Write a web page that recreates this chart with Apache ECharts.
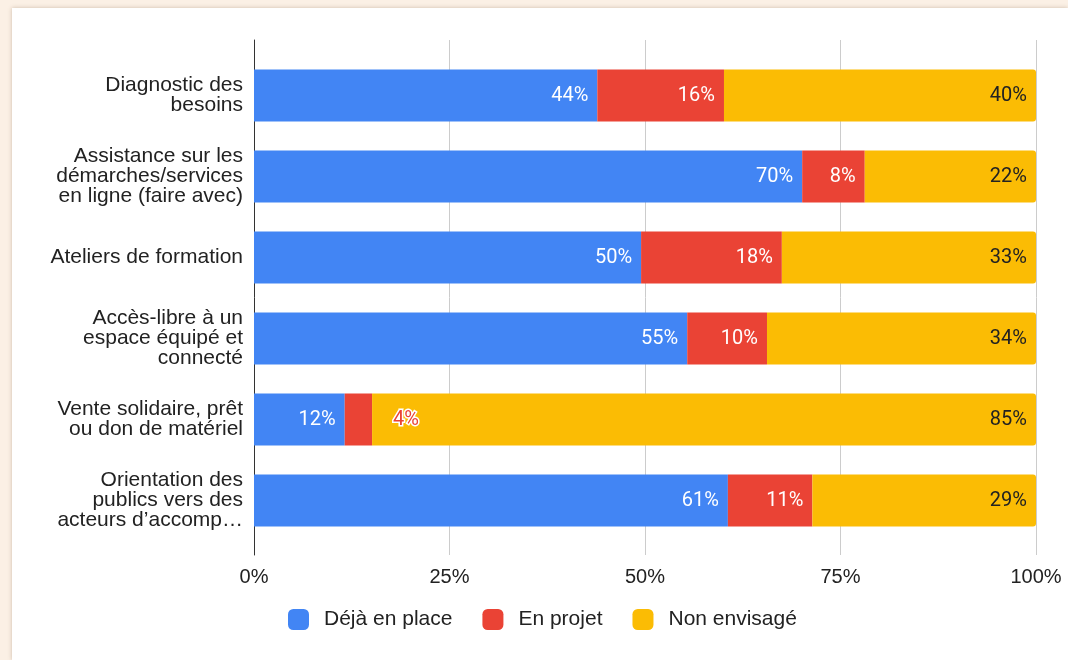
<!DOCTYPE html>
<html>
<head>
<meta charset="utf-8">
<script src="https://cdn.jsdelivr.net/npm/echarts@6/dist/echarts.min.js"></script>
<style>
  html, body { margin: 0; padding: 0; background: #fbf0e5; }
  #card {
    position: absolute; left: 12px; top: 8px; width: 1056px; height: 652px;
    background: #fff; box-shadow: 0 0 4px rgba(120, 90, 60, 0.35);
  }
  #chart { position: absolute; left: 0; top: 0; width: 1068px; height: 660px; }
</style>
</head>
<body>
<div id="card"></div>
<div id="chart"></div>
<script>
const categories = [
  'Diagnostic des\nbesoins',
  'Assistance sur les\ndémarches/services\nen ligne (faire avec)',
  'Ateliers de formation',
  'Accès-libre à un\nespace équipé et\nconnecté',
  'Vente solidaire, prêt\nou don de matériel',
  'Orientation des\npublics vers des\nacteurs d’accomp…'
];
const seriesNames = ['Déjà en place', 'En projet', 'Non envisagé'];
const dejaEnPlace = [43.9, 70.1, 49.5, 55.4, 11.6, 60.6];
const enProjet = [16.2, 8.0, 18.0, 10.2, 3.5, 10.8];
const nonEnvisage = [39.9, 21.9, 32.5, 34.4, 84.9, 28.6];
const xTicks = [0, 25, 50, 75, 100];

const colors = ['#4285f4', '#ea4335', '#fbbc04'];
const pct = p => Math.round(p.value) + '%';

const chart = echarts.init(document.getElementById('chart'), null, {renderer: 'canvas'});

function barSeries(name, data, color, labelColor, extra) {
  return Object.assign({
    name: name,
    type: 'bar',
    stack: 'total',
    xAxisIndex: 0,
    yAxisIndex: 0,
    barWidth: '64%',
    itemStyle: {color: color},
    label: {
      show: true,
      position: 'insideRight',
      distance: 9,
      formatter: pct,
      fontFamily: 'Roboto',
      fontSize: 20,
      color: labelColor
    },
    emphasis: {disabled: true},
    data: data
  }, extra || {});
}

// the small "En projet" value on row 5 is drawn outside its bar
const enProjetData = enProjet.map((v, i) => v < 5 ? {
  value: v,
  label: {
    position: 'right',
    distance: 21,
    color: '#ea4335',
    textBorderColor: '#fff',
    textBorderWidth: 3
  }
} : v);

chart.setOption({
  backgroundColor: 'transparent',
  animation: false,
  textStyle: {fontFamily: 'Liberation Sans, Arial, sans-serif'},
  grid: [
    {left: 254, right: 32, top: 55, height: 486},
    {left: 254, right: 32, top: 40, bottom: 105}
  ],
  legend: {
    data: seriesNames,
    left: 283,
    top: 604,
    icon: 'roundRect',
    itemWidth: 21,
    itemHeight: 21,
    itemGap: 30,
    textStyle: {fontSize: 21, color: '#222', padding: [0, 0, 0, 10]}
  },
  xAxis: [
    {gridIndex: 0, type: 'value', min: 0, max: 100, show: false},
    {
      gridIndex: 1, type: 'value', min: 0, max: 100, interval: 25,
      axisLine: {show: false},
      axisTick: {show: false},
      splitLine: {lineStyle: {color: '#cccccc', width: 1}},
      axisLabel: {
        margin: 12, fontSize: 20, color: '#222',
        formatter: v => xTicks.includes(v) ? v + '%' : ''
      }
    }
  ],
  yAxis: [
    {
      gridIndex: 0, type: 'category', inverse: true, data: categories,
      axisLine: {show: false},
      axisTick: {show: false},
      axisLabel: {margin: 11, fontSize: 21, lineHeight: 20, color: '#222', align: 'right'}
    },
    {
      gridIndex: 1, type: 'value', min: 0, max: 1,
      axisLine: {show: true, lineStyle: {color: '#333', width: 1}},
      axisTick: {show: false},
      axisLabel: {show: false},
      splitLine: {show: false}
    }
  ],
  series: [
    barSeries(seriesNames[0], dejaEnPlace, colors[0], '#fff'),
    barSeries(seriesNames[1], enProjetData, colors[1], '#fff'),
    barSeries(seriesNames[2], nonEnvisage, colors[2], '#222', {
      itemStyle: {color: colors[2], borderRadius: [0, 3, 3, 0]}
    })
  ]
});
</script>
</body>
</html>
